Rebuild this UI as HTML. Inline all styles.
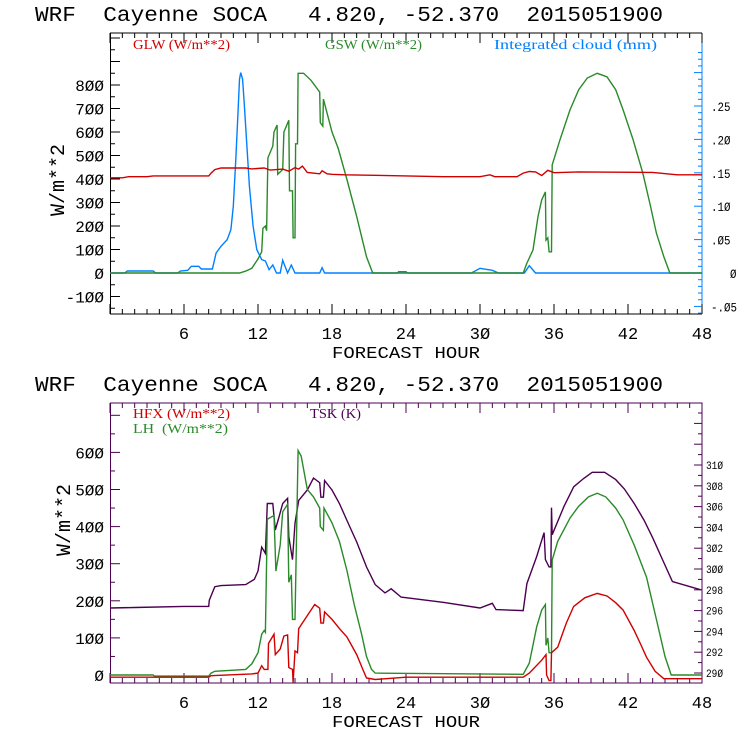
<!DOCTYPE html>
<html><head><meta charset="utf-8"><style>
body{margin:0;background:#fff}
svg{display:block}
text{font-family:"Liberation Mono",monospace;white-space:pre}
.lg{font-family:"Liberation Serif",serif;font-size:14px}
</style></head><body>
<svg id="c" width="740" height="740" viewBox="0 0 740 740"></svg>
<script>
// ---- data: [forecast hour, value] ----
const hours = [0,6,12,18,24,30,36,42,48];
const topLeftTicks = [-100,0,100,200,300,400,500,600,700,800];
const topRightTicks = [-0.05,0,0.05,0.10,0.15,0.20,0.25];
const topRightLabels = ["-.05","0",".05",".10",".15",".20",".25"];
const botLeftTicks = [0,100,200,300,400,500,600];
const botRightTicks = [290,292,294,296,298,300,302,304,306,308,310];
const glw = [[0,405],[1,405],[1.5,410],[3,410],[3.5,413],[8,413],[8.2,425],[8.5,440],[9,447],[11,447],[11.5,443],[12.5,447],[13,438],[14,442],[14.5,433],[15,448],[15.3,442],[15.6,455],[16,428],[17,422],[17.2,435],[17.6,422],[18,420],[19,418],[24,413],[27,410],[30,410],[30.8,418],[31.2,410],[33,410],[33.5,425],[34,432],[34.5,430],[35,415],[35.5,437],[36,427],[38,430],[44,428],[46,418],[48,418]];
const gsw = [[0,0],[10.5,0],[11,8],[11.5,20],[12,60],[12.3,90],[12.4,190],[12.6,200],[12.7,180],[12.8,490],[13.2,540],[13.3,600],[13.55,630],[13.6,420],[14.0,440],[14.1,600],[14.5,650],[14.55,350],[14.8,350],[14.85,150],[15.0,150],[15.05,550],[15.2,550],[15.25,850],[15.7,850],[16.3,820],[17.0,770],[17.05,640],[17.25,625],[17.3,740],[18,600],[18.5,530],[19.2,400],[20,240],[20.8,69],[21.3,0],[33.5,0],[33.8,42],[34.3,98],[34.7,240],[35.0,311],[35.3,345],[35.35,140],[35.5,150],[35.6,90],[35.8,90],[35.85,460],[36.5,570],[37.3,694],[38,780],[38.7,830],[39.5,850],[40.3,835],[41,780],[41.6,694],[42.4,570],[43.2,425],[43.8,290],[44.3,170],[44.9,70],[45.4,0],[48,0]];
const cloud = [[0,0],[1.2,0],[1.4,0.003],[3.5,0.003],[3.7,0],[5.5,0],[5.7,0.003],[6.3,0.004],[6.6,0.01],[7.2,0.01],[7.4,0.006],[8.3,0.006],[8.6,0.03],[9,0.04],[9.5,0.05],[9.8,0.065],[10.0,0.1],[10.2,0.17],[10.4,0.25],[10.5,0.29],[10.6,0.30],[10.75,0.29],[10.9,0.25],[11.1,0.19],[11.3,0.13],[11.6,0.07],[11.9,0.035],[12.3,0.02],[12.6,0.018],[12.9,0.005],[13.2,0.012],[13.5,0],[13.8,0],[14.0,0.019],[14.4,0],[14.7,0.012],[15,0],[17,0],[17.2,0.008],[17.4,0],[23.3,0],[23.4,0.002],[24,0.002],[24.1,0],[29.3,0],[30,0.007],[31,0.004],[31.5,0],[33.6,0],[34,0.011],[34.5,0],[48,0]];
const hfx = [[0,-6],[8,-6],[8.2,-2],[11.5,3],[12,5],[12.3,25],[12.5,15],[12.8,15],[12.85,85],[13.3,110],[13.4,55],[13.8,70],[14.1,105],[14.4,108],[14.5,20],[14.8,15],[14.85,-20],[15.0,65],[15.2,60],[15.3,125],[16,160],[16.6,190],[17,180],[17.1,140],[17.3,140],[17.4,170],[18,150],[18.6,125],[19.2,103],[20,55],[20.5,15],[20.8,-8],[21.5,-12],[24,-6],[33.5,-6],[34,5],[35,40],[35.35,55],[35.4,0],[35.6,-15],[35.75,-15],[35.8,60],[36.3,75],[37,140],[37.6,185],[38.5,208],[39.5,220],[40.3,213],[41,195],[41.6,175],[42.5,120],[43,85],[43.5,48],[44.2,10],[44.9,-10],[48,-10]];
const lh = [[0,0],[3.5,0],[3.6,-3],[8,-3],[8.2,5],[8.5,10],[11,15],[11.5,30],[12,60],[12.3,110],[12.5,120],[12.6,115],[12.75,420],[13.3,430],[13.45,280],[13.8,350],[14.0,440],[14.4,460],[14.5,250],[14.7,270],[14.8,150],[15.0,150],[15.25,605],[15.5,590],[16,500],[16.5,480],[17,450],[17.05,400],[17.3,390],[17.35,450],[18,410],[18.6,360],[19.2,283],[19.8,190],[20.4,110],[20.8,50],[21.2,15],[21.5,5],[33.5,2],[34.0,32],[34.6,130],[35.0,175],[35.3,190],[35.35,80],[35.5,100],[35.6,60],[35.8,60],[35.85,310],[36.3,360],[37.3,423],[38,455],[38.8,480],[39.5,490],[40.2,480],[41,450],[41.6,418],[42.5,350],[43.5,264],[44.3,150],[45,50],[45.5,0],[48,0]];
const tsk = [[0,296.25],[2,296.3],[6,296.4],[8,296.4],[8.05,297.0],[8.5,298.3],[9,298.4],[11,298.5],[11.7,299],[12,299.8],[12.3,302.1],[12.6,301.5],[12.75,306.3],[13.2,306.3],[13.4,303.75],[13.7,305],[14.0,306.3],[14.4,306.8],[14.5,303.1],[14.8,300.9],[15.0,304.4],[15.3,306.6],[16,307.6],[16.5,308.75],[17,308.3],[17.1,306.9],[17.3,306.9],[17.4,308.5],[18,307.6],[18.6,306.3],[19.2,304.7],[20,302.6],[20.8,300.2],[21.5,298.5],[22.3,297.7],[22.8,298.1],[23.6,297.3],[27,296.8],[30,296.25],[31,296.7],[31.3,296.1],[33.5,296.0],[33.8,298.6],[34.6,301.2],[35.2,303.5],[35.3,300.9],[35.6,300.2],[35.75,300.2],[35.8,305.9],[35.85,303.3],[36.8,306],[37.6,307.9],[38.4,308.7],[39.1,309.3],[40.1,309.3],[41,308.6],[41.7,307.7],[42.5,306.3],[43.3,304.7],[44,303],[44.8,300.9],[45.6,298.8],[47.9,298]];

const NS="http://www.w3.org/2000/svg";
const svg=document.getElementById('c');
function el(tag,attrs,txt){const e=document.createElementNS(NS,tag);for(const k in attrs)e.setAttribute(k,attrs[k]);if(txt!==undefined)e.textContent=txt;svg.appendChild(e);return e;}
const X=h=>110+h*(592/48);
const yT=v=>273-v*0.235;
const yTR=v=>273-v*668;
const yB=v=>675-v*0.371;
const yBR=k=>673-(k-290)*10.4;
function pts(arr,fy){return arr.map(p=>X(p[0]).toFixed(1)+','+fy(p[1]).toFixed(1)).join(' ');}

const t1=el('text',{x:35,y:21,'font-size':21,textLength:628,lengthAdjust:'spacingAndGlyphs'},'WRF  Cayenne SOCA   4.820, -52.370  2015051900');


const t2=el('text',{x:35,y:391,'font-size':21,textLength:628,lengthAdjust:'spacingAndGlyphs'},'WRF  Cayenne SOCA   4.820, -52.370  2015051900');



function xAxis(top,bot,color,name){
  for(let h=0;h<=48;h++){
    const len=h%6===0?10:5;
    el('line',{x1:X(h),x2:X(h),y1:bot,y2:bot-len,stroke:color,'stroke-width':1});
    el('line',{x1:X(h),x2:X(h),y1:top,y2:top+len,stroke:color,'stroke-width':1});
  }
  hours.forEach(h=>{if(h===0)return;const t=el('text',{x:X(h),y:bot+25,'font-size':17,'text-anchor':'middle'},String(h).replace(/0/g,'Ø'));
    
    });
  const xl=el('text',{x:406,y:bot+44,'font-size':17,'text-anchor':'middle',textLength:148,lengthAdjust:'spacingAndGlyphs'},'FORECAST HOUR');
  
  
}

// ---------- TOP PANEL ----------
const T0=33,T1=314;
el('line',{x1:110,y1:T0,x2:702,y2:T0,stroke:'#000'});
el('line',{x1:110,y1:T1,x2:702,y2:T1,stroke:'#000'});
el('line',{x1:110.5,y1:T0,x2:110.5,y2:T1,stroke:'#000'});
el('line',{x1:702,y1:T0,x2:702,y2:T1,stroke:'#0080ff'});
xAxis(T0,T1,'#000','top');
for(let v=-150;v<=1000;v+=50){const y=yT(v);if(y<T0||y>T1)continue;
  el('line',{x1:110,x2:110+(v%100===0?10:5),y1:y,y2:y,stroke:'#000'});}
topLeftTicks.forEach(v=>{const t=el('text',{x:104,y:yT(v)+6,'font-size':16,'text-anchor':'end'},String(v).replace(/0/g,'Ø'));
  
  });
for(let v=-0.06;v<=0.34;v+=0.01){const y=yTR(v);if(y<T0||y>T1)continue;
  const m=Math.abs(Math.round(v*100))%5===0;
  el('line',{x1:702,x2:702-(m?8:4),y1:y,y2:y,stroke:'#0080ff'});}
topRightTicks.forEach((v,i)=>{const lab=topRightLabels[i].replace(/0/g,'Ø');
  const t=el('text',{x:lab.length>1?711:730,y:yTR(v)+5,'font-size':13,textLength:lab.length*6.5,lengthAdjust:'spacingAndGlyphs'},lab);
  
  });
const yl1=el('text',{transform:'translate(64,180) rotate(-90)','font-size':20,'text-anchor':'middle'},'W/m**2');


let l;
l=el('text',{x:133,y:49,fill:'#d00000',class:'lg',textLength:97,lengthAdjust:'spacingAndGlyphs'},'GLW (W/m**2)');


l=el('text',{x:325,y:49,fill:'#2a8a2a',class:'lg',textLength:97,lengthAdjust:'spacingAndGlyphs'},'GSW (W/m**2)');


l=el('text',{x:494,y:49,fill:'#0080ff',class:'lg',textLength:163,lengthAdjust:'spacingAndGlyphs'},'Integrated cloud (mm)');


let s;
s=el('polyline',{points:pts(cloud,yTR),fill:'none',stroke:'#0080ff','stroke-width':1.4});


s=el('polyline',{points:pts(gsw,yT),fill:'none',stroke:'#2a8a2a','stroke-width':1.4});


s=el('polyline',{points:pts(glw,yT),fill:'none',stroke:'#d00000','stroke-width':1.4});



// ---------- BOTTOM PANEL ----------
const B0=403,B1=683;const P='#4b0050';
el('rect',{x:110.5,y:B0,width:591.5,height:B1-B0,fill:'none',stroke:P});
xAxis(B0,B1,P,'bottom');
for(let v=0;v<=700;v+=50){const y=yB(v);if(y<B0||y>B1)continue;
  el('line',{x1:110,x2:110+(v%100===0?10:5),y1:y,y2:y,stroke:P});}
botLeftTicks.forEach(v=>{const t=el('text',{x:104,y:yB(v)+6,'font-size':16,'text-anchor':'end'},String(v).replace(/0/g,'Ø'));
  
  });
for(let k=289;k<=316;k++){const y=yBR(k);if(y<B0||y>B1)continue;
  el('line',{x1:702,x2:702-(k%2===0?8:4),y1:y,y2:y,stroke:P});}
botRightTicks.forEach(k=>{const t=el('text',{x:706,y:yBR(k)+4,'font-size':11,textLength:17,lengthAdjust:'spacingAndGlyphs'},String(k).replace(/0/g,'Ø'));
  
  });
const yl2=el('text',{transform:'translate(70,520) rotate(-90)','font-size':20,'text-anchor':'middle'},'W/m**2');


l=el('text',{x:133,y:418,fill:'#d00000',class:'lg',textLength:97,lengthAdjust:'spacingAndGlyphs'},'HFX (W/m**2)');


l=el('text',{x:133,y:433,fill:'#2a8a2a',class:'lg',textLength:95,lengthAdjust:'spacingAndGlyphs'},'LH  (W/m**2)');


l=el('text',{x:310,y:418,fill:P,class:'lg',textLength:51,lengthAdjust:'spacingAndGlyphs'},'TSK (K)');


s=el('polyline',{points:pts(tsk,yBR),fill:'none',stroke:P,'stroke-width':1.4});


s=el('polyline',{points:pts(lh,yB),fill:'none',stroke:'#2a8a2a','stroke-width':1.4});


s=el('polyline',{points:pts(hfx,yB),fill:'none',stroke:'#d00000','stroke-width':1.4});


</script>
</body></html>
